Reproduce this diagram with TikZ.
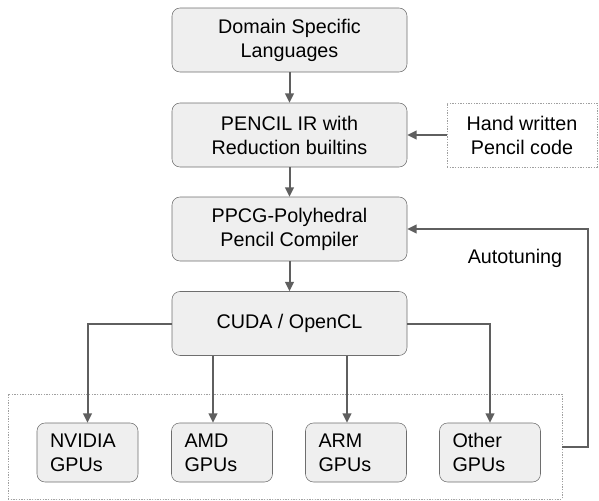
\documentclass[tikz,border=0pt]{standalone}
\usepackage{fontspec}
\setmainfont{Liberation Sans}
\usetikzlibrary{arrows.meta,calc}
\definecolor{boxfill}{RGB}{239,239,239}
\definecolor{edgegray}{RGB}{110,110,110}
\definecolor{flowgray}{RGB}{95,95,95}
\definecolor{dotgray}{RGB}{160,160,160}

\begin{document}
\begin{tikzpicture}[x=0.75pt,y=-0.75pt,
    stage/.style={draw=edgegray,fill=boxfill,rounded corners=6pt,align=center,
      minimum width=176.25pt,minimum height=48pt,inner sep=0pt,
      font=\fontsize{14.8}{18}\selectfont},
    gpu/.style={draw=edgegray,fill=boxfill,rounded corners=6pt,align=left,
      text width=56.25pt,inner xsep=9.75pt,inner ysep=0pt,minimum height=44.25pt,
      font=\fontsize{14.8}{18}\selectfont},
    dotbox/.style={draw=dotgray,dash pattern=on 1pt off 1pt,inner sep=0pt},
    flow/.style={draw=flowgray,line width=1.5pt,-{Triangle[length=7pt,width=6.5pt]}}]
  \useasboundingbox (0,0) rectangle (599,500);
  % Main chain
  \node[stage] (dsl)    at (289.5,40)    {Domain Specific\\Languages};
  \node[stage] (pencil) at (289.5,135)   {PENCIL IR with\\Reduction builtins};
  \node[stage] (ppcg)   at (289.5,229)   {PPCG-Polyhedral\\Pencil Compiler};
  \node[stage] (cuda)   at (289.5,323.5) {CUDA / OpenCL};
  \draw[flow] (dsl) -- (pencil);
  \draw[flow] (pencil) -- (ppcg);
  \draw[flow] (ppcg) -- (cuda);
  % Hand written input
  \node[dotbox,minimum width=112.5pt,minimum height=48pt,align=center,
    font=\fontsize{14.8}{18}\selectfont] (hand) at (522,135) {Hand written\\Pencil code};
  \draw[flow] (hand) -- (pencil);
  % Target GPUs
  \node[dotbox,minimum width=415.5pt,minimum height=78.75pt] (targets) at (285,446.5) {};
  \node[gpu] (nvidia) at (87.5,452.5) {NVIDIA\\GPUs};
  \node[gpu] (amd)    at (222,452.5)  {AMD\\GPUs};
  \node[gpu] (arm)    at (356,452.5)  {ARM\\GPUs};
  \node[gpu] (other)  at (490,452.5)  {Other\\GPUs};
  \draw[flow] (cuda.west) -| (nvidia.north);
  \draw[flow] ([xshift=-6.75pt]amd.north |- cuda.south) -- ([xshift=-6.75pt]amd.north);
  \draw[flow] ([xshift=-6.75pt]arm.north |- cuda.south) -- ([xshift=-6.75pt]arm.north);
  \draw[flow] (cuda.east) -| (other.north);
  % Feedback loop
  \draw[flow] (targets.east) -- ++(26,0) |- (ppcg.east);
  \node[font=\fontsize{14.8}{18}\selectfont] (tune) at (515,258) {Autotuning};
\end{tikzpicture}
\end{document}
